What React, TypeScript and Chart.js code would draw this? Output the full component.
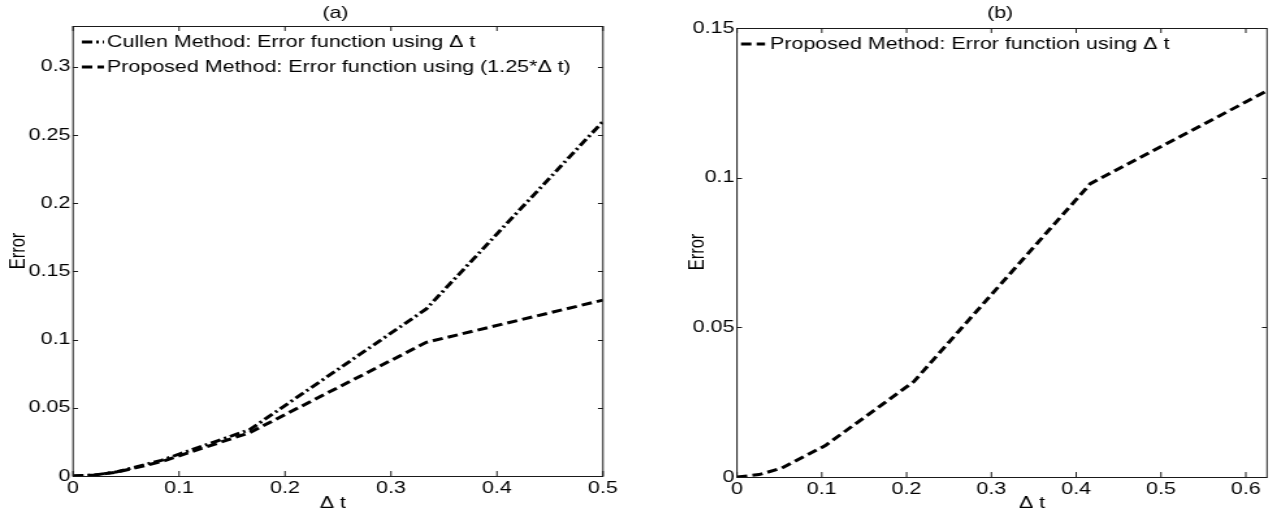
import React, { useEffect, useRef } from "react";
import { Chart, registerables } from "chart.js";
Chart.register(...registerables);

// The reference is a MATLAB figure that was stretched horizontally.
const STRETCH = 1.3;
const FONT_FAMILY = "'Liberation Sans', Arial, Helvetica, sans-serif";
const FONT_SIZE = 16.5;
const H = 512;

// ---------- Panel (a) data ----------
const dtA = [0, 0.0208, 0.0417, 0.0833, 0.1667, 0.3333, 0.5];
const cullenA = [0, 0.0008, 0.0031, 0.0115, 0.034, 0.1225, 0.26];
const proposedA = [0, 0.0008, 0.0029, 0.0105, 0.0318, 0.098, 0.129];
const xTicksA = [0, 0.1, 0.2, 0.3, 0.4, 0.5];
const yTicksA = [0, 0.05, 0.1, 0.15, 0.2, 0.25, 0.3];

// ---------- Panel (b) data ----------
const dtB = [0, 0.026, 0.0521, 0.1042, 0.2083, 0.4167, 0.625];
const proposedB = [0, 0.0008, 0.0029, 0.0105, 0.0318, 0.098, 0.129];
const xTicksB = [0, 0.1, 0.2, 0.3, 0.4, 0.5, 0.6];
const yTicksB = [0, 0.05, 0.1, 0.15];

const labelCullen = "Cullen Method: Error function using \u0394 t";
const labelProposedA = "Proposed Method: Error function using (1.25*\u0394 t)";
const labelProposedB = "Proposed Method: Error function using \u0394 t";

const DASHED = [8, 4];
const DASHDOT = [8, 3, 2, 3];

type Series = { label: string; x: number[]; y: number[]; dash: number[] };
type TextItem = { text: string; x: number; y: number; rot?: number };
type Spec = {
  W: number;
  area: { l: number; r: number; t: number; b: number };
  xMax: number;
  yMax: number;
  xTicks: number[];
  yTicks: number[];
  series: Series[];
  texts: TextItem[];
  legend: { x0: number; x1: number; xt: number; y0: number; dy: number };
};

const specA: Spec = {
  W: 492,
  area: { l: 56.2, r: 463.8, t: 26, b: 476 },
  xMax: 0.5,
  yMax: 0.33,
  xTicks: xTicksA,
  yTicks: yTicksA,
  series: [
    { label: labelCullen, x: dtA, y: cullenA, dash: DASHDOT },
    { label: labelProposedA, x: dtA, y: proposedA, dash: DASHED },
  ],
  texts: [
    { text: "(a)", x: 258, y: 13 },
    { text: "Error", x: 14, y: 251, rot: -Math.PI / 2 },
    { text: "\u0394 t", x: 256, y: 503 },
  ],
  legend: { x0: 63, x1: 80, xt: 82.3, y0: 42, dy: 25 },
};

const specB: Spec = {
  W: 492,
  area: { l: 74.6, r: 482.3, t: 28, b: 477 },
  xMax: 0.625,
  yMax: 0.15,
  xTicks: xTicksB,
  yTicks: yTicksB,
  series: [{ label: labelProposedB, x: dtB, y: proposedB, dash: DASHED }],
  texts: [
    { text: "(b)", x: 277, y: 13 },
    { text: "Error", x: 44, y: 252, rot: -Math.PI / 2 },
    { text: "\u0394 t", x: 301.5, y: 503 },
  ],
  legend: { x0: 77.7, x1: 96.2, xt: 100, y0: 44, dy: 25 },
};

function buildChart(canvas: HTMLCanvasElement, spec: Spec) {
  const { area, W } = spec;
  const font = { family: FONT_FAMILY, size: FONT_SIZE };

  const framePlugin = {
    id: "frame",
    afterDatasetsDraw(chart: any) {
      const { ctx, chartArea } = chart;
      const { left, right, top, bottom } = chartArea;
      const xs = chart.scales.x;
      const ys = chart.scales.y;
      ctx.save();
      ctx.strokeStyle = "#1a1a1a";
      ctx.lineWidth = 1;
      ctx.setLineDash([]);
      ctx.strokeRect(left, Math.round(top) + 0.5, right - left, Math.round(bottom) - Math.round(top));
      const tl = 5;
      ctx.beginPath();
      for (const v of spec.xTicks) {
        const px = xs.getPixelForValue(v);
        ctx.moveTo(px, bottom);
        ctx.lineTo(px, bottom - tl);
        ctx.moveTo(px, top);
        ctx.lineTo(px, top + tl);
      }
      for (const v of spec.yTicks) {
        const py = Math.round(ys.getPixelForValue(v)) + 0.5;
        ctx.moveTo(left, py);
        ctx.lineTo(left + tl / STRETCH, py);
        ctx.moveTo(right, py);
        ctx.lineTo(right - tl / STRETCH, py);
      }
      ctx.stroke();
      ctx.restore();
    },
  };

  const overlayPlugin = {
    id: "overlay",
    afterDraw(chart: any) {
      const { ctx } = chart;
      ctx.save();
      ctx.fillStyle = "#000";
      ctx.font = `${FONT_SIZE}px ${FONT_FAMILY}`;
      ctx.textBaseline = "middle";
      ctx.textAlign = "center";
      for (const t of spec.texts) {
        ctx.save();
        ctx.translate(t.x, t.y);
        if (t.rot) ctx.rotate(t.rot);
        ctx.fillText(t.text, 0, 0);
        ctx.restore();
      }
      // legend
      const lg = spec.legend;
      chart.data.datasets.forEach((ds: any, i: number) => {
        const y = lg.y0 + i * lg.dy;
        ctx.save();
        ctx.strokeStyle = "#000";
        ctx.lineWidth = 3;
        ctx.setLineDash(ds.borderDash || []);
        ctx.beginPath();
        ctx.moveTo(lg.x0, y);
        ctx.lineTo(lg.x1, y);
        ctx.stroke();
        ctx.restore();
        ctx.textAlign = "left";
        ctx.fillText(ds.label, lg.xt, y + 0.5);
      });
      ctx.restore();
    },
  };

  return new Chart(canvas, {
    type: "line",
    data: {
      datasets: spec.series.map((s) => ({
        label: s.label,
        data: s.x.map((x, i) => ({ x, y: s.y[i] })),
        borderColor: "#000",
        backgroundColor: "#000",
        borderWidth: 3,
        borderDash: s.dash,
        borderCapStyle: "butt",
        borderJoinStyle: "miter",
        pointRadius: 0,
        pointHoverRadius: 0,
        tension: 0,
        fill: false,
      })),
    },
    options: {
      responsive: false,
      animation: false,
      devicePixelRatio: 1,
      events: [],
      layout: { padding: { left: 0, right: W - area.r, top: area.t, bottom: 0 } },
      plugins: {
        legend: { display: false },
        tooltip: { enabled: false },
        title: { display: false },
      },
      scales: {
        x: {
          type: "linear",
          min: 0,
          max: spec.xMax,
          afterBuildTicks: (s: any) => {
            s.ticks = spec.xTicks.map((v) => ({ value: v }));
          },
          afterFit: (s: any) => {
            s.height = H - area.b;
          },
          grid: { display: false, drawTicks: false },
          border: { display: false },
          ticks: {
            autoSkip: false,
            maxRotation: 0,
            minRotation: 0,
            padding: 3,
            color: "#000",
            font,
            callback: (v: any) => String(v),
          },
        },
        y: {
          type: "linear",
          min: 0,
          max: spec.yMax,
          afterBuildTicks: (s: any) => {
            s.ticks = spec.yTicks.map((v) => ({ value: v }));
          },
          afterFit: (s: any) => {
            s.width = area.l;
          },
          grid: { display: false, drawTicks: false },
          border: { display: false },
          ticks: {
            autoSkip: false,
            padding: 2,
            color: "#000",
            font,
            callback: (v: any) => String(v),
          },
        },
      },
    },
    plugins: [framePlugin, overlayPlugin],
  } as any);
}

function Panel({ spec, offset }: { spec: Spec; offset: number }) {
  const ref = useRef<HTMLCanvasElement | null>(null);
  useEffect(() => {
    if (!ref.current) return;
    const chart = buildChart(ref.current, spec);
    return () => chart.destroy();
  }, [spec]);
  return (
    <canvas
      ref={ref}
      width={spec.W}
      height={H}
      style={{
        position: "absolute",
        left: offset,
        top: 0,
        width: spec.W,
        height: H,
        transform: `scaleX(${STRETCH})`,
        transformOrigin: "0 0",
      }}
    />
  );
}

export default function App() {
  return (
    <div
      style={{
        position: "fixed",
        left: 0,
        top: 0,
        width: 1279,
        height: H,
        background: "#fff",
        overflow: "hidden",
      }}
    >
      <Panel spec={specA} offset={0} />
      <Panel spec={specB} offset={640} />
    </div>
  );
}
